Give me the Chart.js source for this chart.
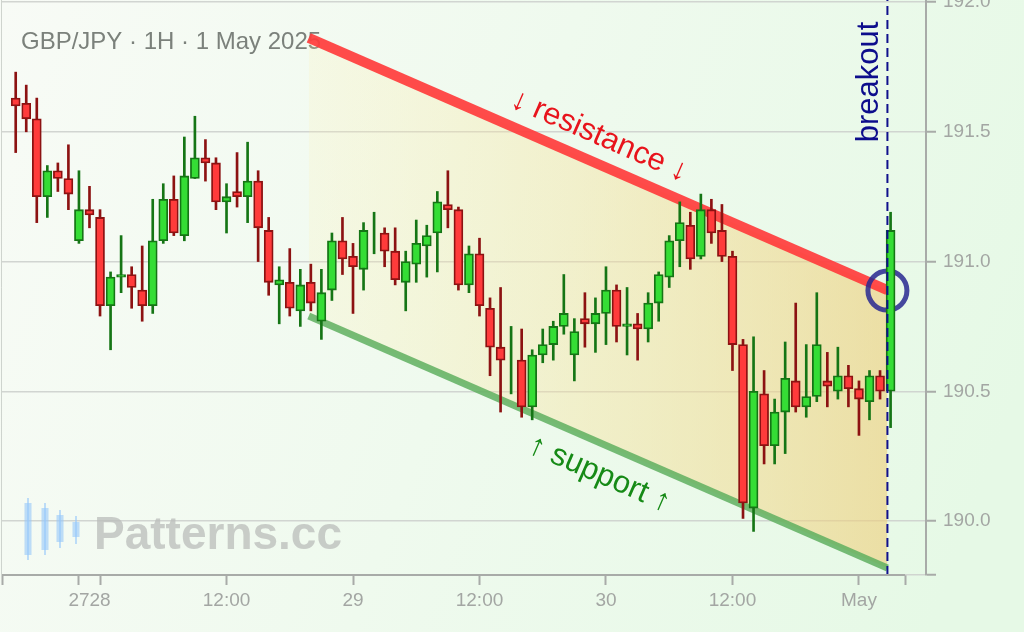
<!DOCTYPE html>
<html>
<head>
<meta charset="utf-8">
<title>GBP/JPY 1H</title>
<script src="https://cdn.jsdelivr.net/npm/chart.js@4.4.1/dist/chart.umd.min.js"></script>
<style>
  html, body { margin: 0; padding: 0; background: #f2fbf2; }
  #wrap { width: 1024px; height: 632px; }
</style>
</head>
<body>
<div id="wrap"><canvas id="myChart" width="1024" height="632"></canvas></div>
<script>
// one candle per hour, x = hours counted from the first bar (bar 80 = 1 May 00:00)
const opens = [
  191.63, 191.61, 191.55, 191.25, 191.35, 191.32, 191.08, 191.20, 191.17, 190.83,
  190.94, 190.95, 190.89, 190.83, 191.08, 191.24, 191.10, 191.32, 191.40, 191.38,
  191.23, 191.27, 191.25, 191.31, 191.12, 190.91, 190.92, 190.81, 190.92, 190.77,
  190.89, 191.08, 191.02, 190.97, 191.12, 191.11, 191.04, 190.92, 190.99, 191.06,
  191.11, 191.22, 191.20, 190.91, 191.03, 190.82, 190.67, 190.61, 190.62, 190.44,
  190.64, 190.68, 190.75, 190.64, 190.78, 190.76, 190.80, 190.89, 190.75, 190.76,
  190.74, 190.84, 190.94, 191.08, 191.14, 191.02, 191.20, 191.12, 191.02, 190.68,
  190.05, 190.49, 190.29, 190.42, 190.54, 190.44, 190.48, 190.54, 190.50, 190.56,
  190.51, 190.46, 190.56, 190.50
];
const highs = [
  191.73, 191.68, 191.63, 191.37, 191.38, 191.45, 191.35, 191.29, 191.20, 190.96,
  191.10, 190.98, 191.06, 191.24, 191.30, 191.33, 191.48, 191.56, 191.47, 191.40,
  191.30, 191.42, 191.46, 191.35, 191.17, 190.98, 191.05, 190.97, 190.99, 190.97,
  191.11, 191.17, 191.07, 191.15, 191.19, 191.13, 191.13, 191.04, 191.16, 191.14,
  191.27, 191.35, 191.21, 191.06, 191.09, 190.86, 190.90, 190.75, 190.74, 190.66,
  190.74, 190.77, 190.95, 190.78, 190.88, 190.86, 190.98, 190.91, 190.90, 190.80,
  190.88, 190.96, 191.10, 191.23, 191.19, 191.26, 191.24, 191.22, 191.04, 190.70,
  190.71, 190.58, 190.47, 190.69, 190.84, 190.68, 190.88, 190.65, 190.67, 190.60,
  190.54, 190.58, 190.58, 191.19
];
const lows = [
  191.42, 191.50, 191.15, 191.17, 191.27, 191.20, 191.07, 191.13, 190.79, 190.66,
  190.88, 190.82, 190.77, 190.80, 191.07, 191.10, 191.08, 191.32, 191.31, 191.20,
  191.11, 191.21, 191.15, 191.00, 190.87, 190.76, 190.79, 190.75, 190.81, 190.70,
  190.85, 190.95, 190.80, 190.89, 191.03, 190.98, 190.91, 190.81, 190.92, 190.94,
  190.96, 191.13, 190.89, 190.88, 190.79, 190.56, 190.42, 190.49, 190.40, 190.39,
  190.61, 190.62, 190.72, 190.54, 190.67, 190.65, 190.68, 190.69, 190.64, 190.62,
  190.69, 190.77, 190.90, 190.98, 190.97, 191.01, 191.07, 191.00, 190.58, 190.01,
  189.96, 190.22, 190.22, 190.26, 190.42, 190.40, 190.46, 190.44, 190.47, 190.44,
  190.33, 190.39, 190.47, 190.36
];
const closes = [
  191.60, 191.55, 191.25, 191.35, 191.32, 191.26, 191.20, 191.18, 190.83, 190.94,
  190.95, 190.90, 190.83, 191.08, 191.24, 191.11, 191.33, 191.40, 191.38, 191.23,
  191.25, 191.25, 191.31, 191.13, 190.92, 190.93, 190.82, 190.91, 190.84, 190.88,
  191.08, 191.01, 190.98, 191.12, 191.12, 191.04, 190.93, 191.00, 191.07, 191.10,
  191.23, 191.20, 190.91, 191.03, 190.83, 190.67, 190.62, 190.61, 190.44, 190.64,
  190.68, 190.75, 190.80, 190.73, 190.76, 190.80, 190.89, 190.75, 190.76, 190.74,
  190.84, 190.95, 191.08, 191.15, 191.01, 191.20, 191.11, 191.02, 190.68, 190.07,
  190.50, 190.29, 190.42, 190.55, 190.44, 190.48, 190.68, 190.52, 190.56, 190.51,
  190.47, 190.56, 190.50, 191.12
];

// x axis ticks (bar index) and their labels
const tickValues = [6, 8, 20, 32, 44, 56, 68, 80];
const tickLabels = ["27", "28", "12:00", "29", "12:00", "30", "12:00", "May"];
const yTickValues = [190.0, 190.5, 191.0, 191.5, 192.0];

// descending channel + breakout
const channelX = [27.8, 82.7];
const resistance = [191.862, 190.890];
const support = [190.790, 189.819];
const breakoutX = 82.7;
const breakoutPrice = 190.888;

const xMin = -1.3, xEnd = 84.37, xMax = 86.36;
const yMin = 189.792, yMax = 192.008;

const FONT = "'Liberation Sans', Arial, sans-serif";
const upFill = "#35dd35", upLine = "#157515";
const downFill = "#ff3b3b", downLine = "#8c1212";

const isUp = closes.map((c, i) => c >= opens[i]);
const wickData = highs.map((h, i) => ({ x: i, y: [lows[i], h] }));
const bodyData = opens.map((o, i) => ({ x: i, y: [Math.min(o, closes[i]), Math.max(o, closes[i])] }));

const bgPlugin = {
    id: "bg",
    beforeDraw(chart) {
        const c = chart.ctx;
        const g = c.createLinearGradient(0, 0, chart.width, chart.height * 0.6);
        g.addColorStop(0, "#f8fbf6");
        g.addColorStop(1, "#e6f9e6");
        c.save();
        c.fillStyle = g;
        c.fillRect(0, 0, chart.width, chart.height);
        c.restore();
    },
    beforeDatasetsDraw(chart) {
        const c = chart.ctx;
        const a = chart.chartArea;
        c.save();
        // faint left frame line
        c.strokeStyle = "rgba(190,195,190,0.7)";
        c.lineWidth = 1;
        c.beginPath();
        c.moveTo(1.5, 0);
        c.lineTo(1.5, a.bottom);
        c.stroke();

        // title
        c.fillStyle = "#7b817b";
        c.font = "24px " + FONT;
        c.textBaseline = "alphabetic";
        c.fillText("GBP/JPY \u00b7 1H \u00b7 1 May 2025", 21, 49);

        // watermark
        c.fillStyle = "rgba(150,200,250,0.6)";
        c.strokeStyle = "rgba(150,200,250,0.6)";
        c.lineWidth = 2;
        [[28, 498, 503, 555, 560], [45, 503, 508, 550, 555], [60, 510, 515, 542, 548], [76, 516, 522, 537, 544]]
            .forEach(([x, wt, bt, bb, wb]) => {
                c.beginPath();
                c.moveTo(x, wt); c.lineTo(x, wb);
                c.stroke();
                c.fillRect(x - 3.5, bt, 7, bb - bt);
            });
        c.fillStyle = "rgba(185,188,185,0.75)";
        c.font = "bold 46px " + FONT;
        c.fillText("Patterns.cc", 94, 549);
        c.restore();
    },
    afterDatasetsDraw(chart) {
        const c = chart.ctx;
        const xs = chart.scales.x, ys = chart.scales.y;
        const a = chart.chartArea;
        c.save();

        // x axis line (ends at the last tick, short of the price axis)
        c.strokeStyle = "#a8aba8";
        c.lineWidth = 2;
        c.beginPath();
        c.moveTo(xs.getPixelForValue(xMin), a.bottom);
        c.lineTo(xs.getPixelForValue(xEnd), a.bottom);
        c.stroke();

        const label = (vals, txt, color, size, lx, ly) => {
            const x0 = xs.getPixelForValue(channelX[0]), y0 = ys.getPixelForValue(vals[0]);
            const x1 = xs.getPixelForValue(channelX[1]), y1 = ys.getPixelForValue(vals[1]);
            c.save();
            c.translate((x0 + x1) / 2, (y0 + y1) / 2);
            c.rotate(Math.atan2(y1 - y0, x1 - x0));
            c.fillStyle = color;
            c.font = size + "px " + FONT;
            c.textAlign = "center";
            c.textBaseline = "middle";
            c.fillText(txt, lx, ly);
            c.restore();
        };
        label(resistance, "\u2193 resistance \u2193", "#e8141c", 31, -10, -26);
        label(support, "\u2191 support \u2191", "#168a16", 31, 14, 29);

        // breakout label
        c.save();
        c.translate(xs.getPixelForValue(breakoutX) - 9, 82);
        c.rotate(-Math.PI / 2);
        c.fillStyle = "#0d0d8c";
        c.font = "31px " + FONT;
        c.textAlign = "center";
        c.textBaseline = "alphabetic";
        c.fillText("breakout", 0, 0);
        c.restore();

        c.restore();
    }
};

document.addEventListener("DOMContentLoaded", function () {
    const ctx = document.getElementById("myChart");

    new Chart(ctx, {
        type: "bar",
        data: {
            datasets: [
                {
                    type: "line",
                    data: channelX.map((x, i) => ({ x: x, y: resistance[i] })),
                    borderColor: "rgba(255,60,60,0.92)",
                    borderWidth: 10,
                    pointRadius: 0,
                    fill: "+1",
                    backgroundColor: (context) => {
                        const chart = context.chart;
                        if (!chart.chartArea) return "rgba(245,215,140,0.4)";
                        const x0 = chart.scales.x.getPixelForValue(channelX[0]);
                        const x1 = chart.scales.x.getPixelForValue(channelX[1]);
                        const g = chart.ctx.createLinearGradient(x0, 0, x1, 0);
                        g.addColorStop(0, "rgba(255,238,170,0.18)");
                        g.addColorStop(1, "rgba(238,205,120,0.6)");
                        return g;
                    },
                    order: 10,
                },
                {
                    type: "line",
                    data: channelX.map((x, i) => ({ x: x, y: support[i] })),
                    borderColor: "rgba(95,175,95,0.85)",
                    borderWidth: 7,
                    pointRadius: 0,
                    fill: false,
                    order: 9,
                },
                {
                    type: "line",
                    data: [{ x: breakoutX, y: breakoutPrice }],
                    showLine: false,
                    pointRadius: 19.5,
                    pointBorderWidth: 5,
                    pointBorderColor: "rgba(40,40,145,0.85)",
                    pointBackgroundColor: "rgba(0,0,0,0)",
                    order: 8,
                },
                {
                    data: wickData,
                    backgroundColor: isUp.map(u => (u ? upLine : downLine)),
                    barThickness: 2,
                    grouped: false,
                    order: 3,
                },
                {
                    data: bodyData,
                    backgroundColor: isUp.map(u => (u ? upFill : downFill)),
                    borderColor: isUp.map(u => (u ? upLine : downLine)),
                    borderWidth: 1.8,
                    borderSkipped: false,
                    barThickness: 9,
                    grouped: false,
                    order: 2,
                },
                {
                    type: "line",
                    data: [{ x: breakoutX, y: yMin }, { x: breakoutX, y: yMax }],
                    borderColor: "#10108c",
                    borderWidth: 2,
                    borderDash: [9, 5],
                    pointRadius: 0,
                    fill: false,
                    order: 1,
                },
            ],
        },
        options: {
            responsive: false,
            animation: false,
            events: [],
            layout: { padding: { left: 2, top: 0, right: 0, bottom: 0 }, autoPadding: false },
            plugins: {
                legend: { display: false },
                tooltip: { enabled: false },
            },
            scales: {
                x: {
                    type: "linear",
                    min: xMin,
                    max: xMax,
                    offset: false,
                    border: { display: false },
                    grid: {
                        offset: false,
                        drawOnChartArea: false,
                        drawTicks: true,
                        tickLength: 10,
                        tickColor: "#a8aba8",
                        tickWidth: 2,
                    },
                    afterBuildTicks: (scale) => {
                        scale.ticks = [xMin].concat(tickValues, [xEnd]).map(v => ({ value: v }));
                    },
                    afterFit: (scale) => {
                        scale.height = 57;
                        scale.paddingLeft = 0;
                        scale.paddingRight = 0;
                    },
                    ticks: {
                        autoSkip: false,
                        maxRotation: 0,
                        padding: 4,
                        color: "#a3a6a3",
                        font: { family: FONT, size: 19 },
                        callback: (value) => {
                            const k = tickValues.indexOf(value);
                            return k >= 0 ? tickLabels[k] : "";
                        },
                    },
                },
                y: {
                    position: "right",
                    min: yMin,
                    max: yMax,
                    border: { display: true, color: "#a8aba8", width: 2 },
                    grid: {
                        color: "rgba(205,208,205,0.9)",
                        lineWidth: 1.5,
                        tickLength: 10,
                        tickColor: "#a8aba8",
                        tickWidth: 2,
                    },
                    afterBuildTicks: (scale) => {
                        scale.ticks = [yMin].concat(yTickValues).map(v => ({ value: v }));
                    },
                    afterFit: (scale) => {
                        scale.width = 98;
                        scale.paddingTop = 0;
                        scale.paddingBottom = 0;
                    },
                    ticks: {
                        padding: 7,
                        color: "#a3a6a3",
                        font: { family: FONT, size: 19 },
                        callback: (value) => (value === yMin ? "" : value.toFixed(1)),
                    },
                },
            },
        },
        plugins: [bgPlugin],
    });
});
</script>
</body>
</html>
